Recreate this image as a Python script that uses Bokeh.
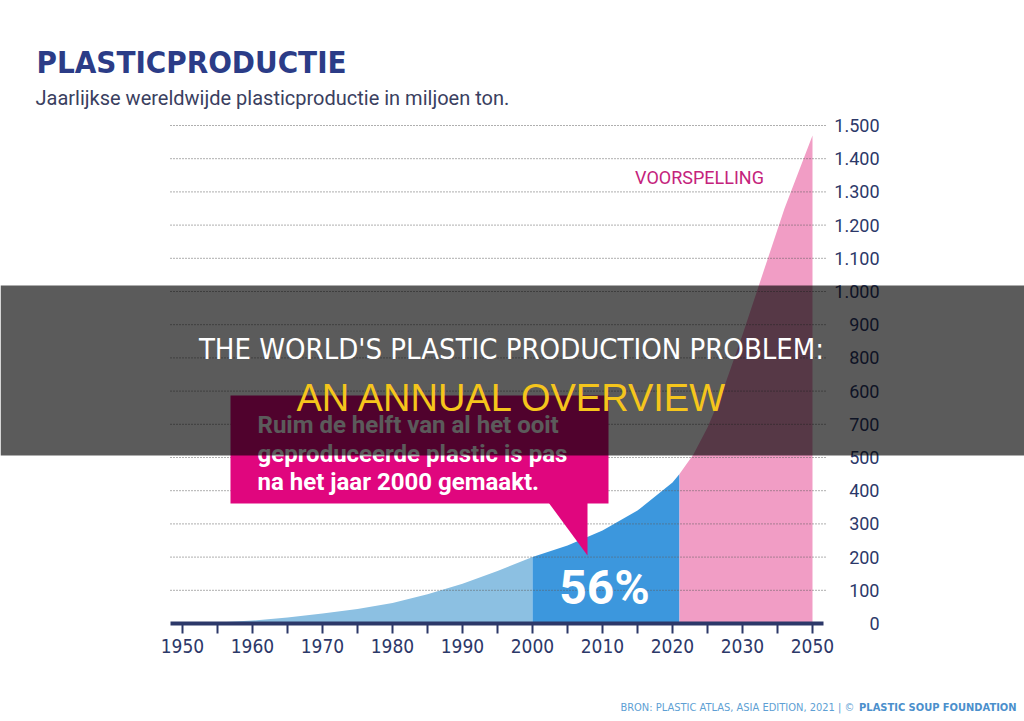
from bokeh.plotting import figure
from bokeh.models import (Range1d, LinearAxis, FixedTicker, BoxAnnotation,
                          PolyAnnotation, Label)
from bokeh.embed import file_html
from bokeh.resources import INLINE

# ---------------- data ----------------
hist_years = [1950, 1955, 1960, 1965, 1970, 1975, 1980, 1985, 1990, 1995, 2000]
hist_prod = [1, 3, 9, 18, 30, 44, 62, 88, 120, 158, 200]

recent_years = [2000, 2005, 2010, 2015, 2020, 2021]
recent_prod = [200, 235, 280, 340, 425, 450]

# forecast, in axis positions (the last tick of the axis is labelled 2050)
forecast_pos = [2021, 2023, 2025, 2027, 2030, 2033, 2036, 2040]
forecast_prod = [450, 510, 590, 690, 870, 1060, 1250, 1470]

x_ticks = [1950, 1960, 1970, 1980, 1990, 2000, 2010, 2020, 2030, 2040]
x_tick_labels = ["1950", "1960", "1970", "1980", "1990", "2000", "2010",
                 "2020", "2030", "2050"]
x_minor_ticks = [1955, 1965, 1975, 1985, 1995, 2005, 2015, 2025, 2035]

y_ticks = [0, 100, 200, 300, 400, 500, 600, 700, 800, 900, 1000, 1100,
           1200, 1300, 1400, 1500]
y_tick_labels = ["0", "100", "200", "300", "400", "500", "700", "600", "800",
                 "900", "1.000", "1.100", "1.200", "1.300", "1.400", "1.500"]

share_label = "56%"

# ---------------- styling ----------------
NAVY = "#2c3869"
TITLE_BLUE = "#2b3c87"
LIGHT = "#8cc0e2"
BLUE = "#3c97dd"
PINK = "#f19dc5"
MAGENTA = "#e0067e"
NARROW = "'Liberation Sans Narrow', 'Arial Narrow', 'DejaVu Sans Condensed', sans-serif"

W, H = 1024, 721


# page pixel -> data helpers (placement of annotations / frame mapping)
def dx(px):
    return 1950 + (px - 182) / 7.0


def dy(py):
    return (623 - py) / (498 / 1500)


p = figure(width=W, height=H, output_backend="svg", toolbar_location=None,
           x_range=Range1d(dx(0), dx(W)), y_range=Range1d(dy(H), dy(0)),
           x_axis_location=None, y_axis_location=None,
           min_border=0, min_border_left=0, min_border_right=0,
           min_border_top=0, min_border_bottom=0)
p.outline_line_color = None
p.background_fill_color = "white"
p.border_fill_color = "white"
p.grid.visible = False

# ---------------- axes ----------------
xaxis = LinearAxis(ticker=FixedTicker(ticks=x_ticks, minor_ticks=x_minor_ticks),
                   major_label_overrides=dict(zip(x_ticks, x_tick_labels)),
                   fixed_location=0, bounds=(dx(170), dx(823)))
xaxis.axis_line_color = NAVY
xaxis.axis_line_width = 4
xaxis.major_tick_line_color = NAVY
xaxis.major_tick_line_width = 2
xaxis.major_tick_in = 0
xaxis.major_tick_out = 10
xaxis.minor_tick_line_color = NAVY
xaxis.minor_tick_line_width = 2
xaxis.minor_tick_in = 0
xaxis.minor_tick_out = 10
xaxis.major_label_standoff = 5
xaxis.major_label_text_font = NARROW
xaxis.major_label_text_font_size = "19px"
xaxis.major_label_text_color = NAVY

yaxis = LinearAxis(ticker=FixedTicker(ticks=y_ticks),
                   major_label_overrides=dict(zip(y_ticks, y_tick_labels)),
                   fixed_location=dx(884), bounds=(0, 1500))
yaxis.axis_line_color = None
yaxis.major_tick_line_color = None
yaxis.minor_tick_line_color = None
yaxis.major_tick_in = 0
yaxis.major_tick_out = 0
yaxis.minor_tick_in = 0
yaxis.minor_tick_out = 0
yaxis.major_label_standoff = 5
yaxis.major_label_text_font = "Roboto"
yaxis.major_label_text_font_size = "18px"
yaxis.major_label_text_color = NAVY

# ---------------- areas ----------------
p.varea(x=hist_years, y1=0, y2=hist_prod, fill_color=LIGHT)
p.varea(x=recent_years, y1=0, y2=recent_prod, fill_color=BLUE)
p.varea(x=forecast_pos, y1=0, y2=forecast_prod, fill_color=PINK)

# dotted grid lines at the y ticks, above the areas
grid_vals = y_ticks[1:]
p.segment(x0=[dx(170)] * len(grid_vals), x1=[dx(825)] * len(grid_vals),
          y0=grid_vals, y1=grid_vals, line_color="#5e5e5e", line_width=1,
          line_dash="1 2")

p.add_layout(xaxis, "below")
p.add_layout(yaxis, "left")


def label(x, y, text, **kw):
    kw.setdefault("text_baseline", "middle")
    p.add_layout(Label(x=dx(x), y=dy(y), text=text, **kw))


# ---------------- callout ----------------
p.add_layout(BoxAnnotation(left=dx(230), right=dx(608), top=dy(395), bottom=dy(503),
                           fill_color=MAGENTA, fill_alpha=1, line_color=None))
p.add_layout(PolyAnnotation(xs=[dx(548), dx(587), dx(587)],
                            ys=[dy(502), dy(502), dy(555)],
                            fill_color=MAGENTA, fill_alpha=1, line_color=None))
callout_lines = ["Ruim de helft van al het ooit",
                 "geproduceerde plastic is pas",
                 "na het jaar 2000 gemaakt."]
for line, mid in zip(callout_lines, [424, 453, 481]):
    label(257, mid, line, text_color="white", text_font="Roboto",
          text_font_style="bold", text_font_size="24px")

label(604, 587, share_label, text_color="white", text_font="Roboto",
      text_font_style="bold", text_font_size="48px", text_align="center")

label(699, 177, "VOORSPELLING", text_color="#c4237c", text_font="Roboto",
      text_font_size="18px", text_align="center")

# ---------------- titles ----------------
label(36, 61, "PLASTICPRODUCTIE", text_color=TITLE_BLUE, text_font=NARROW,
      text_font_style="bold", text_font_size="31px")
label(35, 97, "Jaarlijkse wereldwijde plasticproductie in miljoen ton.",
      text_color="#3a4060", text_font="Roboto", text_font_size="20px")

# footnote
label(857, 707, "BRON: PLASTIC ATLAS, ASIA EDITION, 2021  | ©",
      text_color="#5e9fd4", text_font=NARROW, text_font_size="11px",
      text_align="right")
label(1016, 707, "PLASTIC SOUP FOUNDATION", text_color="#4b8fcc", text_font=NARROW,
      text_font_style="bold", text_font_size="11px", text_align="right")

# ---------------- dark banner ----------------
p.add_layout(BoxAnnotation(top=dy(285), bottom=dy(455),
                           fill_color="black", fill_alpha=0.645, line_color=None))
label(511, 348, "THE WORLD'S PLASTIC PRODUCTION PROBLEM:", text_color="white",
      text_font=NARROW, text_font_size="29px", text_align="center")
label(512, 397, "AN ANNUAL OVERVIEW", text_color="#f5c51c",
      text_font="Liberation Sans", text_font_size="38px", text_align="center")

open("out.html", "w").write(file_html(p, INLINE))
